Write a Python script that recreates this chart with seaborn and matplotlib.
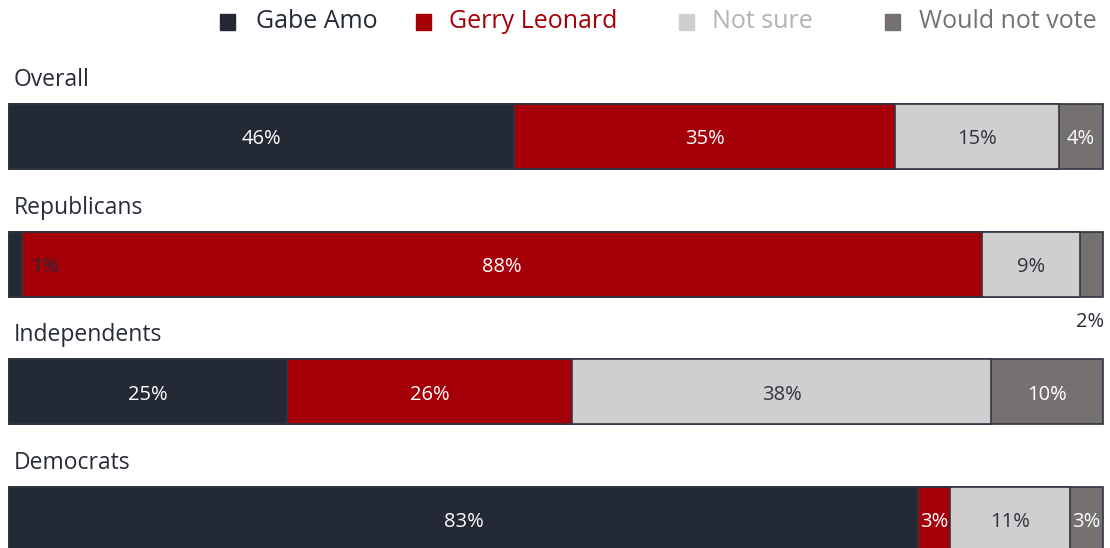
import matplotlib
matplotlib.use('Agg')
import matplotlib.pyplot as plt
from matplotlib.patches import Rectangle
import pandas as pd
import seaborn as sns
import numpy as np

# survey shares (percent)
groups = ['Overall', 'Republicans', 'Independents', 'Democrats']
amo = [46.2, 1.2, 25.4, 83.1]
leonard = [34.8, 87.7, 26.1, 2.9]
not_sure = [15.0, 9.0, 38.3, 11.0]
no_vote = [4.0, 2.1, 10.2, 3.0]

series = ['Gabe Amo', 'Gerry Leonard', 'Not sure', 'Would not vote']
colors = ['#232a36', '#a50008', '#d0cecf', '#767171']
legend_text_colors = ['#232a36', '#a50008', '#b4b2b3', '#767171']
label_colors = ['white', 'white', '#2d3440', 'white']
edge = '#2e3542'
dark = '#262b35'

sns.set_theme(style='white')
plt.rcParams['font.family'] = ['Open Sans', 'DejaVu Sans']

df = pd.DataFrame({'group': groups, 'Gabe Amo': amo, 'Gerry Leonard': leonard,
                   'Not sure': not_sure, 'Would not vote': no_vote})
cum = df[series].cumsum(axis=1)

W, H = 1110, 548
fig = plt.figure(figsize=(W / 100, H / 100), dpi=100)
ax = fig.add_axes([0, 0, 1, 1])

# stacked bars: draw cumulative totals from the widest down
for s, c in reversed(list(zip(series, colors))):
    sns.barplot(x=cum[s], y=df['group'], color=c, orient='h', width=0.509,
                saturation=1, edgecolor=edge, linewidth=1.2, ax=ax)

px = 100 / 1094
ax.set_xlim(-9 * px, 100 + 7 * px)
ax.set_ylim((548 - 136.5) / 127.7, -136.5 / 127.7)
ax.axis('off')

# segment labels
for i, g in enumerate(groups):
    start = 0
    for s, lc in zip(series, label_colors):
        v = df.loc[i, s]
        txt = f"{round(v)}%"
        xc, yc, col, ha = start + v / 2, i + 0.022, lc, 'center'
        if g == 'Republicans' and s == 'Gabe Amo':
            xc, col = 3.3, dark
        elif g == 'Republicans' and s == 'Would not vote':
            xc, yc, col, ha = 100 + 1 * px, i + 0.455, dark, 'right'
        ax.text(xc, yc, txt, ha=ha, va='center', color=col, fontsize=14.5)
        start += v
    ax.text(5 * px, i - 0.443, g, ha='left', va='center', color=dark, fontsize=16.5)

# legend across the top
marker_x = [220, 416, 679, 885]
text_x = [256, 449, 712, 919]
for mx, tx, s, c, tc in zip(marker_x, text_x, series, colors, legend_text_colors):
    fig.patches.append(Rectangle((mx / W, 1 - 30 / H), 15 / W, 16 / H,
                                 transform=fig.transFigure, color=c))
    fig.text(tx / W, 1 - 22 / H, s, ha='left', va='center', color=tc, fontsize=18)

fig.savefig('out.png', dpi=100)
